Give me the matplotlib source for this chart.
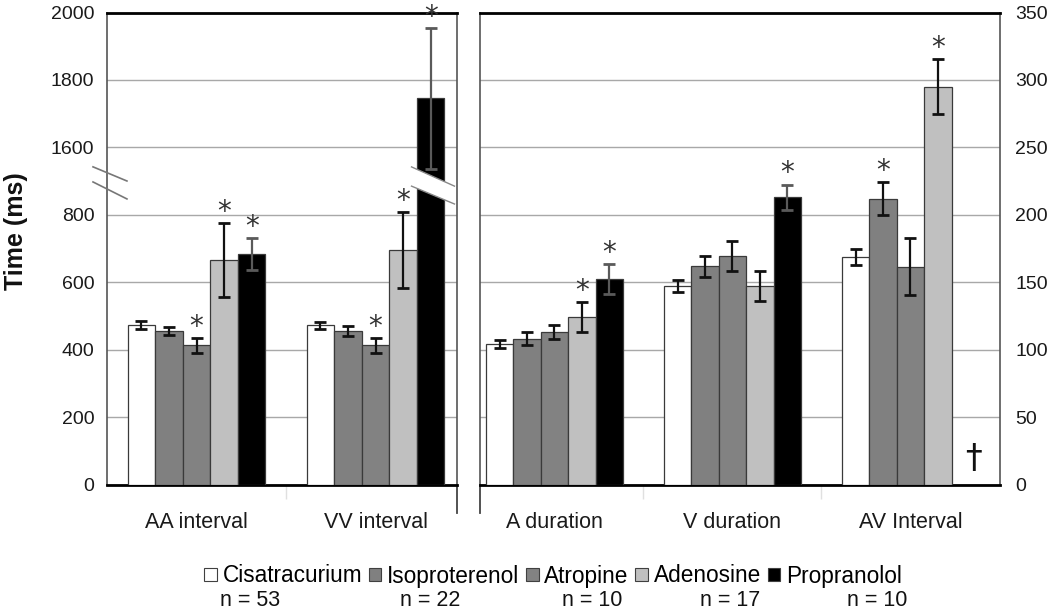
import numpy as np
import matplotlib.pyplot as plt
from matplotlib.patches import Patch, Polygon

plt.rcParams['font.family'] = ['Liberation Sans', 'DejaVu Sans']

# categories and series
left_groups = ['AA interval', 'VV interval']
right_groups = ['A duration', 'V duration', 'AV Interval']
drugs = ['Cisatracurium', 'Isoproterenol', 'Atropine', 'Adenosine', 'Propranolol']
n_labels = ['n = 53', 'n = 22', 'n = 10', 'n = 17', 'n = 10']

# left panel (ms), one list per drug: [AA, VV]
left_means = {
    'Cisatracurium': [472, 472],
    'Isoproterenol': [455, 455],
    'Atropine': [413, 413],
    'Adenosine': [666, 696],
    'Propranolol': [684, 1745],
}
left_err = {
    'Cisatracurium': [12, 11],
    'Isoproterenol': [12, 15],
    'Atropine': [22, 22],
    'Adenosine': [110, 112],
    'Propranolol': [48, 210],
}
left_star = {
    'Cisatracurium': [0, 0],
    'Isoproterenol': [0, 0],
    'Atropine': [1, 1],
    'Adenosine': [1, 1],
    'Propranolol': [1, 1],
}

# right panel (ms), one list per drug: [A dur, V dur, AV]
right_means = {
    'Cisatracurium': [104, 147, 168.5],
    'Isoproterenol': [108, 162, 212],
    'Atropine': [113, 169.5, 161.5],
    'Adenosine': [124, 147, 295],
    'Propranolol': [152.5, 213, np.nan],
}
right_err = {
    'Cisatracurium': [3, 4.5, 6],
    'Isoproterenol': [4.8, 7.8, 12],
    'Atropine': [5.3, 11, 21],
    'Adenosine': [11, 11, 20.5],
    'Propranolol': [11, 9.4, np.nan],
}
right_star = {
    'Cisatracurium': [0, 0, 0],
    'Isoproterenol': [0, 0, 1],
    'Atropine': [0, 0, 0],
    'Adenosine': [1, 0, 1],
    'Propranolol': [1, 1, 0],
}

left_ticks = [0, 200, 400, 600, 800, 1600, 1800, 2000]
right_ticks = [0, 50, 100, 150, 200, 250, 300, 350]

bar_colors = {'Cisatracurium': '#ffffff', 'Isoproterenol': '#808080',
              'Atropine': '#828282', 'Adenosine': '#c0c0c0', 'Propranolol': '#000000'}
err_colors = {'Cisatracurium': '#111111', 'Isoproterenol': '#111111',
              'Atropine': '#111111', 'Adenosine': '#111111', 'Propranolol': '#5a5a5a'}

# broken axis: values above 1000 are shifted down by 600
BREAK_LOW, BREAK_SHIFT = 1000, 600


def to_disp(v):
    v = np.asarray(v, dtype=float)
    return np.where(v > BREAK_LOW, v - BREAK_SHIFT, v)


W = 0.154

fig = plt.figure(figsize=(10.5, 6.11), dpi=100)
bottom = (611 - 484.5) / 611
height = 472 / 611
ax1 = fig.add_axes([107 / 1050, bottom, 350 / 1050, height])
ax2 = fig.add_axes([480 / 1050, bottom, 520 / 1050, height])


def draw_bars(ax, groups, means, errs, stars, transform=lambda v: np.asarray(v, float)):
    xs = np.arange(len(groups))
    for i, d in enumerate(drugs):
        x = xs + (i - 2) * W
        y = transform(means[d])
        e = np.asarray(errs[d], float)
        ax.bar(x, y, W, color=bar_colors[d], edgecolor='#3a3a3a', linewidth=0.9, zorder=3)
        ax.errorbar(x, y, yerr=e, fmt='none', ecolor=err_colors[d], elinewidth=1.6,
                    capsize=4, capthick=2, zorder=4)
        for j, s in enumerate(stars[d]):
            if s:
                ax.annotate('*', (x[j], y[j] + e[j]), xytext=(0, 8), textcoords='offset points',
                            ha='center', va='center', fontsize=20, color='#333333',
                            family='DejaVu Sans', zorder=6)
    ax.set_xticks(xs)
    ax.set_xticklabels(groups)


draw_bars(ax1, left_groups, left_means, left_err, left_star, to_disp)
draw_bars(ax2, right_groups, right_means, right_err, right_star)

ax1.set_xlim(-0.5, 1.455)
ax1.set_ylim(0, 1400)
ax1.set_yticks(to_disp(left_ticks))
ax1.set_yticklabels([str(t) for t in left_ticks])

ax2.set_xlim(-0.4185, 2.503)
ax2.set_ylim(0, 350)
ax2.set_yticks(right_ticks)
ax2.yaxis.tick_right()

for ax, minor in ((ax1, [0.5]), (ax2, [0.5, 1.5])):
    ax.yaxis.grid(True, color='#a8a8a8', linewidth=1)
    ax.set_axisbelow(True)
    ax.tick_params(axis='y', length=0, pad=9, labelsize=14, labelcolor='#1a1a1a')
    ax.tick_params(axis='x', which='major', length=0, pad=20, labelsize=15.5, labelcolor='#1a1a1a')
    ax.set_xticks(minor, minor=True)
    ax.tick_params(axis='x', which='minor', length=10, color='#e0e0e0', width=1)
    ax.spines['top'].set_linewidth(2)
    ax.spines['bottom'].set_linewidth(2)
    ax.spines['top'].set_color('black')
    ax.spines['bottom'].set_color('black')
    for side in ('left', 'right'):
        ax.spines[side].set_color('#555555')
        ax.spines[side].set_linewidth(1.2)

ax2.tick_params(axis='y', pad=11)

# separator lines running below the panels
ax1.plot([1, 1], [0, -0.061], transform=ax1.transAxes, color='#444444', lw=1.3, clip_on=False)
ax2.plot([0, 0], [0, -0.061], transform=ax2.transAxes, color='#444444', lw=1.3, clip_on=False)

# break marks on the left axis
for y0, y1 in ((0.673, 0.643), (0.641, 0.605)):
    ax1.plot([-0.04, 0.057], [y0, y1], transform=ax1.transAxes, color='#777777',
             lw=1.2, clip_on=False, zorder=7)

# break band across the tall VV propranolol bar
band = Polygon([[1.201, 942], [1.441, 885], [1.441, 832], [1.201, 885]],
               closed=True, facecolor='white', edgecolor='none', zorder=5)
ax1.add_patch(band)
ax1.plot([1.201, 1.441], [942, 885], color='#888888', lw=1, zorder=5)
ax1.plot([1.201, 1.441], [885, 832], color='#888888', lw=1, zorder=5)

# dagger where propranolol AV was not measured
ax2.annotate('\u2020', (2 + 2 * W, 19), xytext=(6, 0), textcoords='offset points',
             ha='center', va='center', fontsize=24, family='DejaVu Sans', color='#111111')

fig.text(16 / 1050, 1 - 231 / 611, 'Time (ms)', rotation=90, fontsize=18,
         fontweight='bold', ha='center', va='center', color='#111111')

handles = [Patch(facecolor=bar_colors[d], edgecolor='#404040', linewidth=0.8) for d in drugs]
fig.legend(handles, drugs, loc='center', bbox_to_anchor=(553 / 1050, 1 - 576 / 611), ncol=5,
           frameon=False, fontsize=16.3, handlelength=0.55, handleheight=0.55,
           handletextpad=0.25, columnspacing=0.3, borderpad=0, borderaxespad=0)

n_x = [250, 430, 592, 730, 877]
for x, lab in zip(n_x, n_labels):
    fig.text(x / 1050, 1 - 600 / 611, lab, ha='center', va='center', fontsize=15.5, color='#111111')

fig.savefig('out.png', dpi=100)
